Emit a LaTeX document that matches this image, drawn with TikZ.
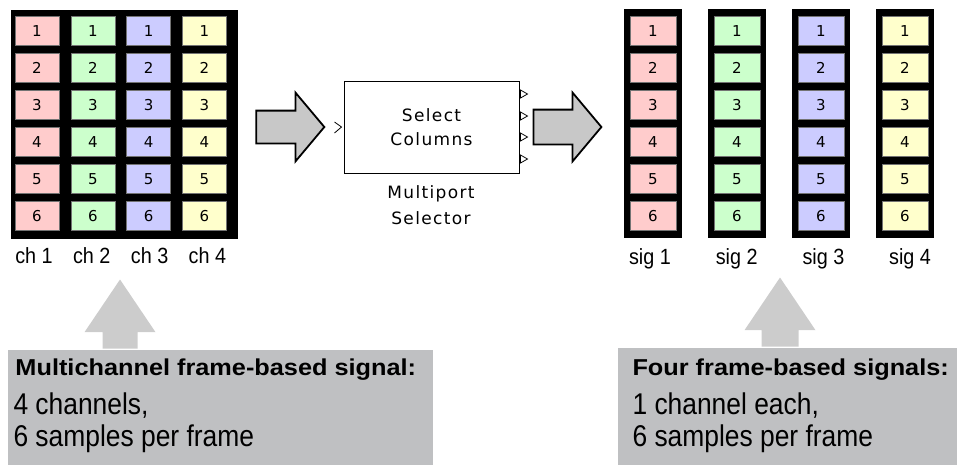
\documentclass[tikz,border=0pt]{standalone}
\usepackage{fontspec}
\setmainfont{Liberation Sans}
\newfontfamily\headfont[FakeStretch=1.1]{Liberation Sans}
\newfontfamily\narrowfont[FakeStretch=0.88]{Liberation Sans}
\newfontfamily\tagfont[FakeStretch=0.9]{Liberation Sans}
\newfontfamily\blockfont[LetterSpace=8]{DejaVu Sans}
\newfontfamily\cellfont{DejaVu Sans}
\usetikzlibrary{arrows.meta, positioning, shapes.arrows, calc}
\definecolor{cred}{HTML}{FFCCCC}
\definecolor{cgreen}{HTML}{CCFFCC}
\definecolor{cblue}{HTML}{CCCCFF}
\definecolor{cyellow}{HTML}{FFFFCC}
\definecolor{cfat}{HTML}{C8C8C8}
\definecolor{cpointer}{HTML}{CCCCCC}
\definecolor{cnote}{HTML}{BFC0C2}
\tikzset{
  every picture/.style={line width=1pt},
  cell/.style={draw=black!55, line width=0.6pt, fill=#1, minimum width=44pt, minimum height=29pt, inner sep=0pt, font=\cellfont\fontsize{15}{15}\selectfont},
  frame/.style={fill=black, inner sep=0pt},
  tag/.style={font=\tagfont\fontsize{22}{22}\selectfont, inner sep=0pt, anchor=base},
  blocktext/.style={font=\blockfont\fontsize{17}{24}\selectfont, align=center, inner sep=0pt},
  fatarrow/.style={single arrow, draw=black, fill=cfat, line width=1.8pt, inner xsep=0pt, inner ysep=15.5pt, minimum height=68pt, single arrow head extend=18pt, single arrow tip angle=100},
  pointer/.style={single arrow, fill=cpointer, inner xsep=0pt, inner ysep=17pt, rotate=90, anchor=tail, minimum height=69pt, single arrow head extend=#1, single arrow tip angle=68},
  notebox/.style={fill=cnote, inner sep=0pt, anchor=north west},
  headtext/.style={font=\headfont\bfseries\fontsize{23}{23}\selectfont, inner sep=0pt, anchor=base west},
  bodytext/.style={font=\narrowfont\fontsize{30}{30}\selectfont, inner sep=0pt, anchor=base west},
}

\begin{document}
\begin{tikzpicture}[x=1pt, y=-1pt]
  \useasboundingbox (0,0) rectangle (957,464);
  % multichannel input matrix
  \node[frame, minimum width=227pt, minimum height=229pt, anchor=north west] (chMat) at (10,9) {};
  \foreach \c/\col in {1/cred, 2/cgreen, 3/cblue, 4/cyellow} {
    \foreach \r in {1,...,6}
      \node[cell=\col] (ch\c-\r) at ({37+55.8*(\c-1)}, {31+37*(\r-1)}) {\r};
    \node[tag] (chLbl\c) at ({34+57.8*(\c-1)}, 263) {ch \c};
  }
  % four output signals
  \foreach \c/\col in {1/cred, 2/cgreen, 3/cblue, 4/cyellow} {
    \node[frame, minimum width=58pt, minimum height=229pt] (sigCol\c) at ({653+84*(\c-1)}, 123.5) {};
    \foreach \r in {1,...,6}
      \node[cell=\col, minimum width=46pt] (sig\c-\r) at ({653+84*(\c-1)}, {31+37*(\r-1)}) {\r};
    \node[tag] (sigLbl\c) at ({650+86.7*(\c-1)}, 264) {sig \c};
  }
  % selector block
  \node[draw, minimum width=175pt, minimum height=92pt, blocktext] (selBlk) at (431.5,127) {Select\\Columns};
  \node[blocktext, font=\blockfont\fontsize{17}{26}\selectfont] (selLbl) at (431,205) {Multiport\\Selector};
  \draw[line width=0.8pt] ($(selBlk.west)+(-9,-5)$) -- ($(selBlk.west)+(-2,0)$) -- ($(selBlk.west)+(-9,6)$);
  \foreach \dy in {-33,-11,10,32}
    \draw[line width=0.8pt, fill=white] ($(selBlk.east)+(1,\dy-4)$) -- ++(7,4) -- ++(-7,4) -- cycle;
  \node[fatarrow, anchor=tip] (inArrow) at ($(selBlk.west)+(-18,0)$) {};
  \node[fatarrow, anchor=tail, inner ysep=16.5pt, single arrow head extend=17pt] (outArrow) at ($(selBlk.east)+(13,0)$) {};
  % notes
  \node[notebox, minimum width=425pt, minimum height=116pt] (chNote) at (7,349) {};
  \node[notebox, minimum width=340pt, minimum height=117pt] (sigNote) at (617,347) {};
  \node[pointer=18pt] (chPtr) at ($(chNote.north west)+(113,0)$) {};
  \node[pointer=17pt, inner ysep=18pt] (sigPtr) at ($(sigNote.north west)+(163,0)$) {};
  \node[headtext] (chHead) at (15,375) {Multichannel frame-based signal:};
  \node[bodytext] (chBody1) at (13,414) {4 channels,};
  \node[bodytext] (chBody2) at (13,446) {6 samples per frame};
  \node[headtext] (sigHead) at (632,375) {Four frame-based signals:};
  \node[bodytext] (sigBody1) at (632,414) {1 channel each,};
  \node[bodytext] (sigBody2) at (632,446) {6 samples per frame};
\end{tikzpicture}
\end{document}
